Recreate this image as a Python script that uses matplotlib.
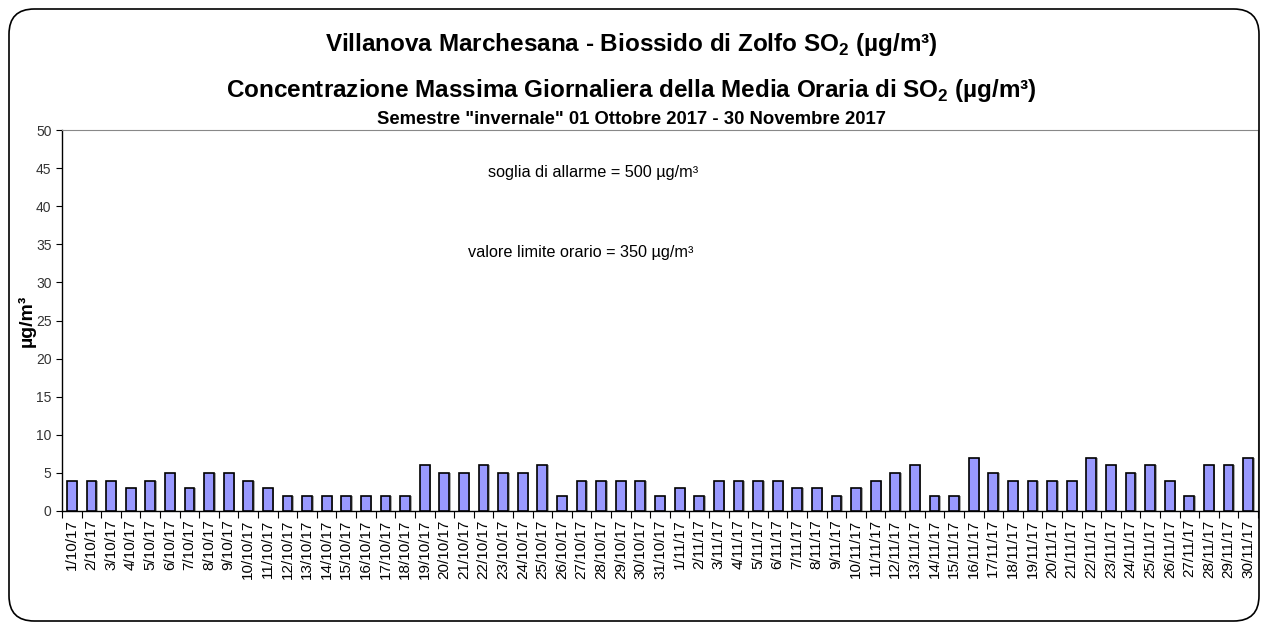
import matplotlib.pyplot as plt
from matplotlib.patches import FancyBboxPatch
import numpy as np

plt.rcParams['font.family'] = ['Liberation Sans', 'DejaVu Sans']
plt.rcParams['mathtext.fontset'] = 'custom'
plt.rcParams['mathtext.rm'] = 'Liberation Sans'
plt.rcParams['mathtext.bf'] = 'Liberation Sans:bold'

# giorni (ottobre e novembre 2017)
giorni_ott = [f"{d}/10/17" for d in range(1, 32)]
giorni_nov = [f"{d}/11/17" for d in range(1, 31)]
giorni = giorni_ott + giorni_nov

so2_ott = [4, 4, 4, 3, 4, 5, 3, 5, 5, 4, 3, 2, 2, 2, 2, 2, 2, 2, 6, 5,
           5, 6, 5, 5, 6, 2, 4, 4, 4, 4, 2]
so2_nov = [3, 2, 4, 4, 4, 4, 3, 3, 2, 3, 4, 5, 6, 2, 2, 7, 5, 4, 4, 4,
           4, 7, 6, 5, 6, 4, 2, 6, 6, 7]
so2 = so2_ott + so2_nov

fig = plt.figure(figsize=(12.63, 6.30), dpi=100)
ax = fig.add_axes([62/1263, 1 - 511/630, 1196/1263, 381/630])

x = np.arange(len(giorni))
ax.bar(x + 0.08, so2, width=0.5, color='#aaaaaa', edgecolor='none', zorder=2)  # ombra
ax.bar(x, so2, width=0.5, color='#9999ff', edgecolor='black', linewidth=1.2, zorder=3)

ax.set_xlim(-0.5, len(giorni) - 0.5)
ax.set_ylim(0, 50)
ax.set_yticks(range(0, 51, 5))
ax.set_xticks(x)
ax.set_xticklabels(giorni, rotation=90, fontsize=11)
ax.set_xticks(np.arange(-0.5, len(giorni), 1), minor=True)
ax.tick_params(axis='x', which='major', length=0, pad=6)
ax.tick_params(axis='x', which='minor', length=5, width=0.8)
ax.tick_params(axis='y', labelsize=10, length=4, width=0.8, colors='black',
               labelcolor='#333333')

for s in ['top', 'right']:
    ax.spines[s].set_color('#888888')
ax.spines['left'].set_linewidth(1)
ax.spines['bottom'].set_linewidth(1)

ax.set_ylabel('µg/m³', fontsize=14, fontweight='bold')
ax.yaxis.set_label_coords(-0.022, 0.5)

ax.text(531/1196, 1 - (172 - 130)/381,
        'soglia di allarme = 500 µg/m³', transform=ax.transAxes,
        ha='center', va='center', fontsize=11.7)
ax.text(519/1196, 1 - (253 - 130)/381,
        'valore limite orario = 350 µg/m³', transform=ax.transAxes,
        ha='center', va='center', fontsize=11.7)

# titoli
fig.text(0.5, 1 - 45/630, r'Villanova Marchesana - Biossido di Zolfo SO$_{\mathbf{2}}$ (µg/m³)',
         ha='center', va='center', fontsize=17.5, fontweight='bold')
fig.text(0.5, 1 - 91/630,
         r'Concentrazione Massima Giornaliera della Media Oraria di SO$_{\mathbf{2}}$ (µg/m³)',
         ha='center', va='center', fontsize=17.5, fontweight='bold')
fig.text(0.5, 1 - 119/630, 'Semestre "invernale" 01 Ottobre 2017 - 30 Novembre 2017',
         ha='center', va='center', fontsize=13.3, fontweight='bold')

# cornice arrotondata
bordo = FancyBboxPatch((9/1263, 9/630), 1250/1263, 612/630,
                       boxstyle='round,pad=0,rounding_size=0.02',
                       transform=fig.transFigure, fill=False,
                       edgecolor='black', linewidth=1.2, mutation_aspect=2)
fig.patches.append(bordo)

fig.savefig('out.png', dpi=100)
